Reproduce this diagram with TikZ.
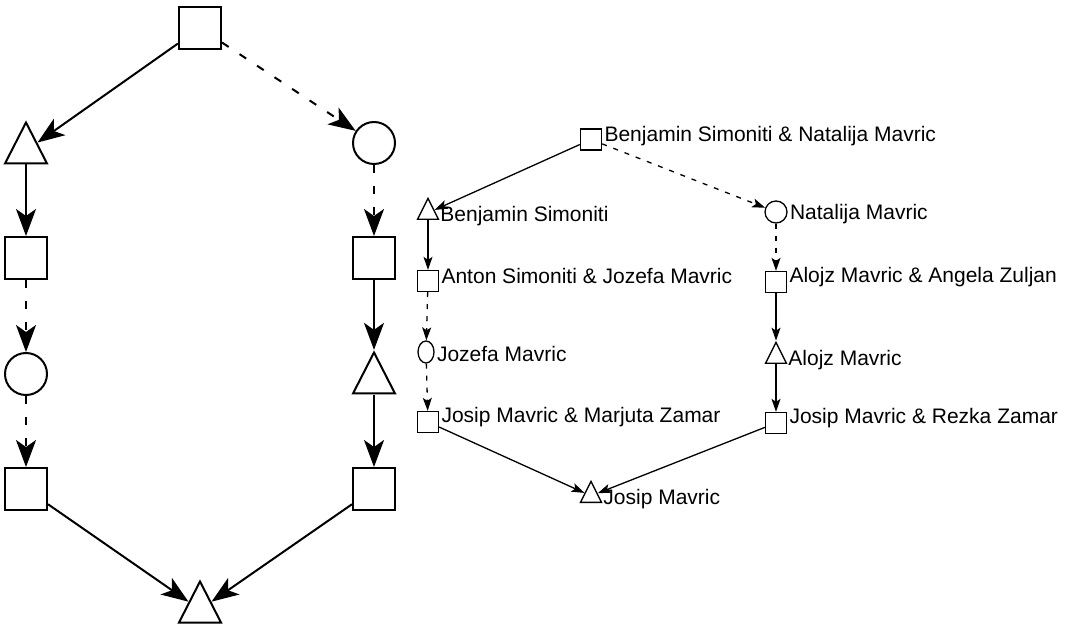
\documentclass[tikz,border=0pt]{standalone}
\usepackage{fontspec}
\setmainfont{Liberation Sans}
\usetikzlibrary{shapes.geometric,arrows.meta}

\begin{document}
\begin{tikzpicture}[x=0.5pt,y=-0.5pt,
    sq/.style={draw,rectangle,minimum size=21pt,inner sep=0pt,line width=1pt},
    tri/.style={draw,isosceles triangle,isosceles triangle stretches,shape border rotate=90,minimum width=21pt,minimum height=20.5pt,inner sep=0pt,line width=1pt,anchor=lower side,yshift=-10.25pt},
    rnd/.style={draw,circle,minimum size=21pt,inner sep=0pt,line width=1pt},
    big/.style={line width=1pt,-{Stealth[length=13.5pt,width=10pt,inset=3.5pt]}},
    bigdash/.style={big,dash pattern=on 4pt off 6.5pt},
    ssq/.style={sq,minimum size=10.5pt,line width=0.65pt},
    stri/.style={tri,minimum width=10.5pt,minimum height=10.5pt,line width=0.65pt,yshift=5.25pt},
    srnd/.style={draw,ellipse,minimum width=11pt,minimum height=11pt,inner sep=0pt,line width=0.65pt},
    small/.style={line width=0.65pt,-{Stealth[length=6.5pt,width=4.5pt,inset=1.5pt]}},
    smalldash/.style={small,dash pattern=on 2.5pt off 3.5pt},
    lab/.style={anchor=west,inner sep=1pt,font=\fontsize{10.5}{12}\selectfont},
    sqlab/.style={lab,yshift=2.5pt},
    trilab/.style={lab,xshift=1pt,yshift=-1.5pt},
    rndlab/.style={lab,yshift=-0.8pt}]
  \useasboundingbox (0,0) rectangle (1080,624);

  \node[sq] (top) at (200,28) {};
  \node[tri] (lt) at (26,144) {};
  \node[rnd] (rc) at (374,143) {};
  \node[sq] (ls) at (26,258) {};
  \node[sq] (rs) at (374,258) {};
  \node[rnd] (lc) at (26,374) {};
  \node[tri] (rt) at (374,374) {};
  \node[sq] (lb) at (26,489) {};
  \node[sq] (rb) at (374,489) {};
  \node[tri] (bot) at (200,603) {};

  \draw[big] (top) -- (lt);
  \draw[bigdash] (top) -- (rc);
  \draw[big] (lt) -- (ls);
  \draw[bigdash] (ls) -- (lc);
  \draw[bigdash] (lc) -- (lb);
  \draw[bigdash] (rc) -- (rs);
  \draw[big] (rs) -- (rt);
  \draw[big] (rt) -- (rb);
  \draw[big] (lb) -- (bot);
  \draw[big] (rb) -- (bot);

  \node[ssq,label={[sqlab,yshift=-1pt]east:Benjamin Simoniti \& Natalija Mavric}] (bn) at (591,139.5) {};
  \node[stri,label={[trilab]east:Benjamin Simoniti}] (benjamin) at (428,210) {};
  \node[srnd,label={[rndlab]east:Natalija Mavric}] (natalija) at (776,212) {};
  \node[ssq,label={[sqlab]east:Anton Simoniti \& Jozefa Mavric}] (aj) at (428,281) {};
  \node[ssq,label={[sqlab]east:Alojz Mavric \& Angela Zuljan}] (aa) at (776,282) {};
  \node[srnd,minimum width=8pt,label={[rndlab]east:Jozefa Mavric}] (jozefa) at (426,352) {};
  \node[stri,label={[trilab]east:Alojz Mavric}] (alojz) at (776,354) {};
  \node[ssq,label={[sqlab]east:Josip Mavric \& Marjuta Zamar}] (jm) at (428,422) {};
  \node[ssq,label={[sqlab]east:Josip Mavric \& Rezka Zamar}] (jr) at (776,423) {};
  \node[stri,label={[trilab]east:Josip Mavric}] (josip) at (591,493) {};

  \draw[small] (bn) -- (benjamin);
  \draw[smalldash] (bn) -- (natalija);
  \draw[small] (benjamin) -- (aj);
  \draw[smalldash] (aj) -- (jozefa);
  \draw[smalldash] (jozefa) -- (jm);
  \draw[smalldash] (natalija) -- (aa);
  \draw[small] (aa) -- (alojz);
  \draw[small] (alojz) -- (jr);
  \draw[small] (jm) -- (josip);
  \draw[small] (jr) -- (josip);
\end{tikzpicture}
\end{document}
